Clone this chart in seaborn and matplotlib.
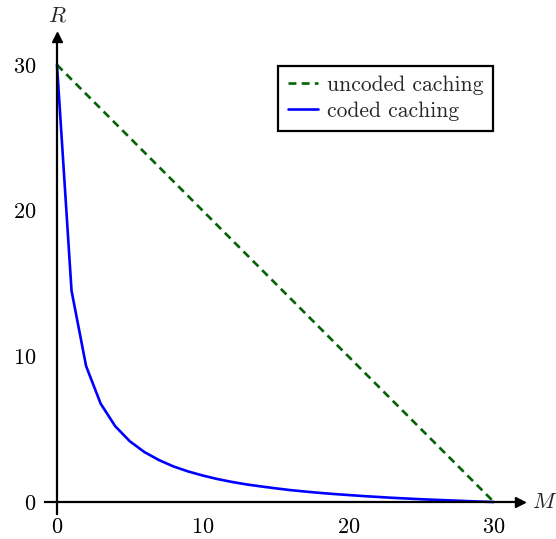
import matplotlib
matplotlib.use("Agg")
import matplotlib.pyplot as plt
import seaborn as sns
import pandas as pd

# Data
cache_size = list(range(0, 31))
uncoded_rate = [30, 29, 28, 27, 26, 25, 24, 23, 22, 21, 20, 19, 18, 17, 16, 15,
                14, 13, 12, 11, 10, 9, 8, 7, 6, 5, 4, 3, 2, 1, 0]
coded_rate = [30, 14.5, 9.33, 6.75, 5.2, 4.17, 3.43, 2.88, 2.44, 2.1, 1.82,
              1.58, 1.38, 1.21, 1.07, 0.94, 0.82, 0.72, 0.63, 0.55, 0.48,
              0.41, 0.35, 0.29, 0.24, 0.19, 0.15, 0.11, 0.07, 0.03, 0.0]
series_names = ["uncoded caching", "coded caching"]
x_ticks = [0, 10, 20, 30]
y_ticks = [0, 10, 20, 30]

sns.set_style("white")
plt.rcParams["font.family"] = ["cmr10", "DejaVu Serif"]
plt.rcParams["mathtext.fontset"] = "cm"
plt.rcParams["axes.formatter.use_mathtext"] = True

df = pd.DataFrame({
    "M": cache_size * 2,
    "R": uncoded_rate + coded_rate,
    "scheme": [series_names[0]] * len(cache_size) + [series_names[1]] * len(cache_size),
})

fig = plt.figure(figsize=(5.56, 5.39), dpi=100)
ax = fig.add_axes([0.0815, 0.047, 0.854, 0.884])

sns.lineplot(data=df, x="M", y="R", hue="scheme", style="scheme",
             palette={series_names[0]: "#006400", series_names[1]: "#0000ff"},
             dashes={series_names[0]: (3.0, 2.0), series_names[1]: ""},
             linewidth=1.9, ax=ax, legend=True)

ax.set_xlim(-0.8, 31.8)
ax.set_ylim(-0.8, 31.9)
ax.set_xticks(x_ticks)
ax.set_yticks(y_ticks)
ax.set_xlabel("")
ax.set_ylabel("")

for s in ["top", "right"]:
    ax.spines[s].set_visible(False)
ax.spines["left"].set_position(("data", 0))
ax.spines["bottom"].set_position(("data", 0))
for s in ["left", "bottom"]:
    ax.spines[s].set_linewidth(1.6)
    ax.spines[s].set_color("black")

ax.tick_params(axis="both", direction="inout", length=10, width=1.6,
               labelsize=16, colors="black")
ax.tick_params(axis="x", pad=6)
ax.tick_params(axis="y", pad=10)

# arrows
ax.plot(1, 0, ">", color="black", markersize=7, transform=ax.get_yaxis_transform(), clip_on=False)
ax.plot(0, 1, "^", color="black", markersize=7, transform=ax.get_xaxis_transform(), clip_on=False)
ax.text(1.025, 0, r"$M$", transform=ax.get_yaxis_transform(), fontsize=16,
        ha="left", va="center")
ax.text(0, 1.025, r"$R$", transform=ax.get_xaxis_transform(), fontsize=16,
        ha="center", va="bottom")

leg = ax.legend(loc="upper right", bbox_to_anchor=(0.9425, 0.940), fontsize=15.5,
                frameon=True, fancybox=False, handlelength=1.4, handletextpad=0.4,
                borderpad=0.45, labelspacing=0.3, borderaxespad=0)
leg.get_frame().set_edgecolor("black")
leg.get_frame().set_linewidth(1.6)
leg.get_frame().set_alpha(1)

fig.savefig("out.png", dpi=100)
